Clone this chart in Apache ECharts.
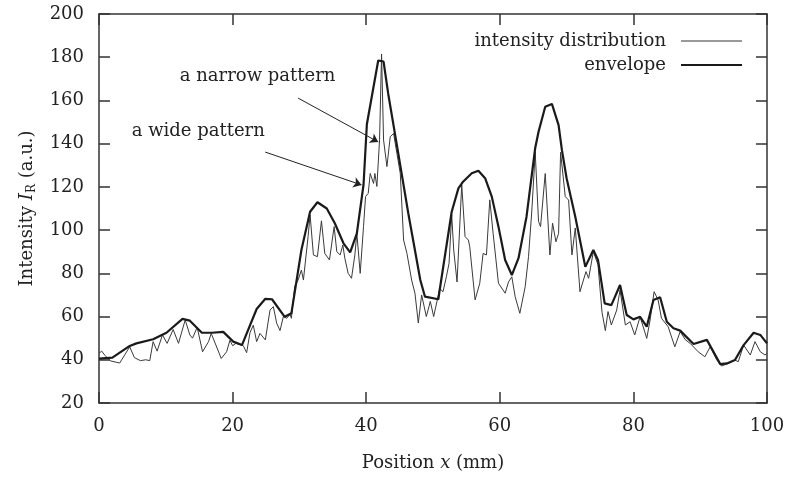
<!DOCTYPE html>
<html>
<head>
<meta charset="utf-8">
<script src="https://cdn.jsdelivr.net/npm/echarts@6/dist/echarts.min.js"></script>
<style>
  html, body { margin: 0; padding: 0; background: #fff; }
  #chart { width: 792px; height: 485px; }
</style>
</head>
<body>
<div id="chart"></div>
<script>
// Position (mm) / intensity (a.u.) pairs for the measured distribution
const intensityDistribution = [
  [0,43],[0.4,44],[0.9,42],[1.7,39.5],[3.1,38.5],[4.6,46],[5.3,41],[6.2,39.6],[7.0,40],[7.6,39.6],
  [8.1,48.4],[8.7,44],[9.5,51.5],[10.2,47.6],[11.1,54],[11.9,47.6],[12.9,58.4],[13.6,51.5],[14.0,50],[14.7,55],
  [15.5,43.7],[16.4,48.4],[16.8,52.2],[18.3,40.6],[19.1,43.7],[19.6,49],[20.0,46.5],[20.5,47.6],[21.6,46.5],[22.1,43.3],
  [22.6,52.5],[23.1,56],[23.6,48.4],[24.1,52.2],[24.9,49.2],[25.6,63],[26.1,64.6],[26.6,56.9],[27.1,53.5],[27.6,60],
  [28.1,59.2],[28.6,61],[28.8,59.2],[29.3,74],[29.8,76.9],[30.3,81.5],[30.6,76.9],[31.3,97],[31.6,107],[32.1,88.5],
  [32.7,87.7],[33.3,104.3],[33.8,89.2],[34.5,86.2],[35.2,101.6],[35.6,90],[36.1,88.5],[36.5,93.1],[36.8,87],[37.3,80],
  [37.8,77.7],[38.3,88.5],[38.6,98.5],[39.1,80],[39.6,101.6],[39.9,115.5],[40.3,117],[40.6,126.2],[41.1,121.6],[41.3,126.2],
  [41.6,120.2],[42.0,141.7],[42.3,181.5],[42.6,141.7],[43.1,129.4],[43.6,143.2],[44.1,144.7],[44.6,135.5],[45.1,126.2],[45.6,95.4],
  [46.1,89.2],[46.8,76.9],[47.3,70.8],[47.8,57],[48.3,70],[49.0,60],[49.6,67],[50.1,60],[50.8,70],[51.0,73],
  [51.5,71.5],[52.0,78.4],[52.4,84.6],[52.8,107],[53.1,90.8],[53.6,76],[54.3,121],[54.8,97],[55.3,95.4],[55.5,92.3],
  [56.3,67.7],[57.0,75.4],[57.5,89.2],[58.0,88.5],[58.5,114],[59.0,98.5],[59.8,75.4],[60.8,70.8],[61.3,76],[61.8,78.4],
  [62.3,69.2],[63.0,61.5],[63.8,73.8],[64.3,87.7],[64.8,109.3],[65.3,136],[65.8,104],[66.1,101.6],[66.8,126.2],[67.5,88.5],
  [67.9,103.2],[68.4,94.6],[68.8,98.5],[69.1,136],[69.8,115.5],[70.3,113.9],[70.8,88.5],[71.3,101],[72.0,71.5],[72.9,80.8],
  [73.3,77.7],[74.0,90],[74.7,84],[75.3,62],[75.8,53.5],[76.2,62.3],[76.7,56.1],[77.5,63],[78.0,72.3],[78.8,56.1],
  [79.5,57.6],[80.2,51.5],[81.0,59.9],[82.0,49.9],[82.5,58.4],[83.1,71.5],[83.7,67.7],[84.2,59.2],[85.2,55.3],[86.2,46],
  [87.0,53],[87.8,49.2],[88.5,47.6],[89.7,43.7],[90.7,41.4],[91.5,46],[92.5,39.9],[93.2,37.1],[94.2,38.3],[95.2,39.9],
  [95.7,39.1],[96.5,46.8],[97.5,42.2],[98.2,48.4],[99.0,43.7],[99.7,42.2],[100,43]
];

// Upper envelope of the distribution
const envelope = [
  [0,40.5],[2,41],[4.6,46.4],[5.6,47.6],[8.1,49.5],[10.1,52.5],[12.5,58.9],[13.6,58.1],[15.4,52.5],[16.9,52.5],
  [18.6,52.9],[20.1,48.4],[21.4,46.8],[23.6,63.5],[24.9,68.2],[25.9,68],[27.8,59.9],[28.8,61.5],[30.3,90.8],[31.6,108.5],
  [32.7,112.9],[34.1,110],[35.3,103.2],[36.6,93.9],[37.6,89.7],[38.6,98.5],[39.6,121],[40.1,149],[41.8,178.5],[42.6,178],
  [43.3,163],[44.8,135.5],[46.3,107.8],[48.1,76.9],[48.8,69.2],[50.8,68],[51,72.3],[52.8,108.5],[53.8,119.3],[54.5,122.4],
  [55.8,126.3],[56.8,127.5],[57.8,124],[58.8,115.5],[59.8,101.6],[60.8,86.2],[61.8,79.2],[62.8,87],[64,106.2],[65.3,138],
  [65.8,145.5],[66.8,157.1],[67.8,158.4],[68.8,148.6],[69.3,137],[70,124],[71.3,106.2],[72.3,90.8],[72.8,83],[74,90.8],
  [74.7,86.2],[75.7,66.1],[76.7,65.3],[78,74.6],[79,60.7],[80,58.7],[81,59.9],[82,55.3],[83,67.7],[84,68.9],
  [85,57.6],[86,54.6],[87,53.5],[89,47.3],[91,49.2],[93,38],[94,38.3],[95.2,39.9],[96.5,46.8],[98,52.5],
  [99,51.5],[100,47.6]
];

// Axis ranges
const xRange = [0, 100, 20];
const yRange = [20, 200, 20];

// Annotations: [label, text anchor, arrow start, arrow tip]
const annotations = [
  ['a narrow pattern', [12.1, 171.3], [29.8, 161.1], [41.8, 140.8]],
  ['a wide pattern',   [4.9, 145.9],  [24.9, 136.1], [39.3, 120.9]]
];

const FONT = '"DejaVu Serif", "Liberation Serif", serif';
const INK = '#222';
const FRAME = '#333';

const chart = echarts.init(document.getElementById('chart'), null, { renderer: 'canvas' });

function frameAxis(extra) {
  return Object.assign({
    type: 'value',
    axisLine: { show: true, onZero: false, lineStyle: { color: FRAME, width: 1.5 } },
    axisTick: { show: true, inside: true, length: 11, lineStyle: { color: FRAME, width: 1.5 } },
    splitLine: { show: false },
    axisLabel: { show: false }
  }, extra);
}

const option = {
  animation: false,
  backgroundColor: '#fff',
  textStyle: { fontFamily: FONT, color: INK },
  grid: { left: 99, right: 25, top: 14, bottom: 82, containLabel: false },
  legend: [
    {
      data: [{ name: 'intensity distribution', itemStyle: { color: '#777' } }],
      right: 45, top: 27, align: 'right', icon: 'rect', itemWidth: 61, itemHeight: 1.3,
      selectedMode: false,
      textStyle: { fontFamily: FONT, fontSize: 18, color: INK, padding: [0, 10, 0, 0] }
    },
    {
      data: [{ name: 'envelope', itemStyle: { color: '#1a1a1a' } }],
      right: 45, top: 51, align: 'right', icon: 'rect', itemWidth: 61, itemHeight: 2.2,
      selectedMode: false,
      textStyle: { fontFamily: FONT, fontSize: 18, color: INK, padding: [0, 10, 0, 0] }
    }
  ],
  xAxis: [
    frameAxis({
      min: xRange[0], max: xRange[1], interval: xRange[2], position: 'bottom',
      axisLabel: { show: true, margin: 14, fontFamily: FONT, fontSize: 18, color: INK },
      name: '{n|Position }{i|x}{n| (mm)}',
      nameLocation: 'middle', nameGap: 51,
      nameTextStyle: {
        fontFamily: FONT, fontSize: 18, color: INK,
        rich: {
          n: { fontFamily: FONT, fontSize: 18, color: INK },
          i: { fontFamily: FONT, fontSize: 18, color: INK, fontStyle: 'italic' }
        }
      }
    }),
    frameAxis({ min: xRange[0], max: xRange[1], interval: xRange[2], position: 'top' })
  ],
  yAxis: [
    frameAxis({
      min: yRange[0], max: yRange[1], interval: yRange[2], position: 'left',
      axisLabel: { show: true, margin: 15, fontFamily: FONT, fontSize: 18, color: INK },
      name: '{n|Intensity }{i|I}{s|R}{n| (a.u.)}',
      nameLocation: 'middle', nameGap: 61,
      nameTextStyle: {
        fontFamily: FONT, fontSize: 18, color: INK,
        rich: {
          n: { fontFamily: FONT, fontSize: 18, color: INK },
          i: { fontFamily: FONT, fontSize: 18, color: INK, fontStyle: 'italic' },
          s: { fontFamily: FONT, fontSize: 12, color: INK, padding: [9, 0, 0, 0] }
        }
      }
    }),
    frameAxis({ min: yRange[0], max: yRange[1], interval: yRange[2], position: 'right' })
  ],
  series: [
    {
      name: 'intensity distribution',
      type: 'line',
      xAxisIndex: 0, yAxisIndex: 0,
      data: intensityDistribution,
      showSymbol: false,
      lineStyle: { color: '#3a3a3a', width: 1 },
      itemStyle: { color: '#777' },
      z: 2
    },
    {
      name: 'envelope',
      type: 'line',
      xAxisIndex: 0, yAxisIndex: 0,
      data: envelope,
      showSymbol: false,
      lineStyle: { color: '#1a1a1a', width: 2.2 },
      itemStyle: { color: '#1a1a1a' },
      z: 3,
      markLine: {
        silent: true,
        animation: false,
        symbol: ['none', 'arrow'],
        symbolSize: 8,
        lineStyle: { color: '#222', width: 1, type: 'solid' },
        itemStyle: { color: '#222' },
        label: { show: false },
        emphasis: { disabled: true },
        data: annotations.map(a => [{ coord: a[2] }, { coord: a[3] }])
      },
      markPoint: {
        silent: true,
        animation: false,
        symbol: 'circle',
        symbolSize: 0,
        data: annotations.map(a => ({
          coord: a[1],
          label: {
            show: true, formatter: a[0], position: 'right', distance: 0,
            fontFamily: FONT, fontSize: 18, color: INK
          }
        }))
      }
    }
  ]
};

chart.setOption(option);
</script>
</body>
</html>
